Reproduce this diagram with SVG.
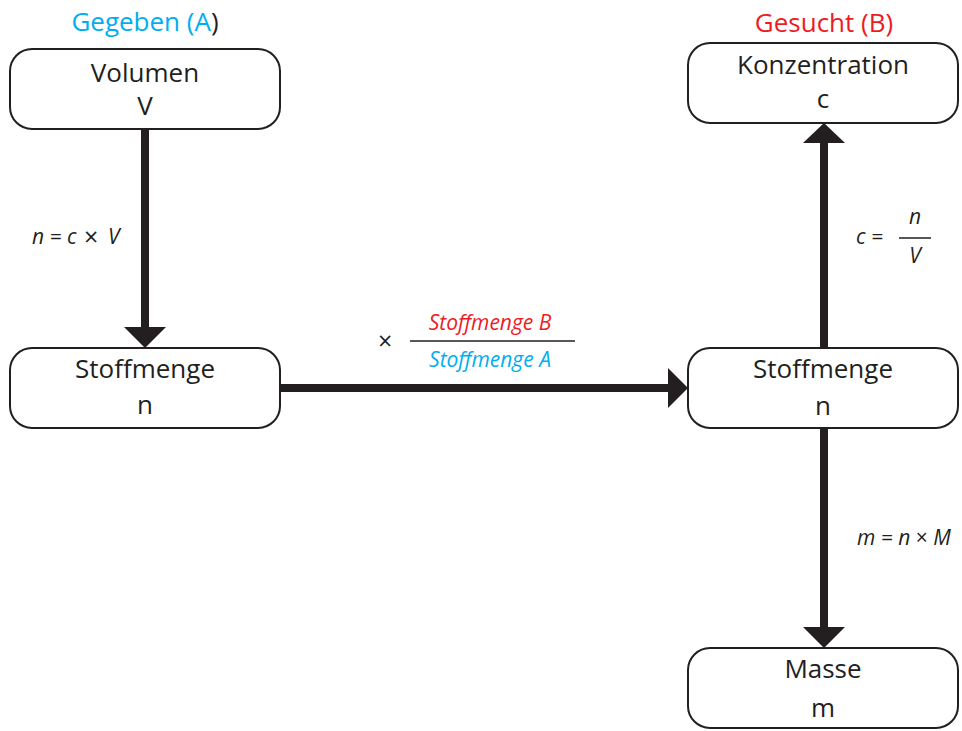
<svg xmlns="http://www.w3.org/2000/svg" width="962" height="731" viewBox="0 0 962 731">
<style>
.box{fill:#fff;stroke:#231f20;stroke-width:2}
.lbl{font-family:"Open Sans","Liberation Sans",sans-serif;font-size:26px;fill:#231f20;text-anchor:middle}
.hd{font-family:"Open Sans","Liberation Sans",sans-serif;font-size:26px;text-anchor:middle}
.f{font-family:"Open Sans","Liberation Sans",sans-serif;font-size:21px;font-style:italic;fill:#231f20}
.x{font-family:"Open Sans","Liberation Sans",sans-serif;font-size:25px;fill:#231f20}
.red{fill:#ed1c24}
.cyan{fill:#00aeef}
.shaft{stroke:#231f20;stroke-width:8;fill:none}
.head{fill:#231f20}
</style>
<rect width="962" height="731" fill="#fff"/>
<text class="hd" x="145" y="31"><tspan class="cyan">Gegeben (A</tspan><tspan fill="#231f20">)</tspan></text>
<text class="hd red" x="824" y="32">Gesucht (B)</text>
<g id="connectors">
<line class="shaft" x1="145" y1="129" x2="145" y2="329"/>
<polygon class="head" points="124,327 166,327 145,348"/>
<line class="shaft" x1="280" y1="388" x2="670" y2="388"/>
<polygon class="head" points="668,368 668,408 688,388"/>
<line class="shaft" x1="824" y1="348" x2="824" y2="141"/>
<polygon class="head" points="803,143 845,143 824,123"/>
<line class="shaft" x1="824" y1="428" x2="824" y2="629"/>
<polygon class="head" points="803,627 845,627 824,648"/>
<text class="f" x="32" y="244">n = c</text>
<text class="x" x="84" y="246">×</text>
<text class="f" x="108" y="244">V</text>
<text class="x" x="378" y="350">×</text>
<line x1="410" y1="341" x2="575" y2="341" stroke="#231f20" stroke-width="1.5"/>
<text class="f red" x="490" y="330" text-anchor="middle">Stoffmenge B</text>
<text class="f cyan" x="490" y="367" text-anchor="middle">Stoffmenge A</text>
<text class="f" x="856" y="244">c =</text>
<line x1="899" y1="238" x2="931" y2="238" stroke="#231f20" stroke-width="1.5"/>
<text class="f" x="915" y="224" text-anchor="middle">n</text>
<text class="f" x="915" y="263" text-anchor="middle">V</text>
<text class="f" x="857" y="545">m = n <tspan style="font-style:normal">×</tspan> M</text>
</g>
<g id="volumen">
<rect class="box" x="10" y="49" width="270" height="80" rx="22"/>
<text class="lbl" x="145" y="82">Volumen</text>
<text class="lbl" x="145" y="115">V</text>
</g>
<g id="stoffmenge-a">
<rect class="box" x="10" y="348" width="270" height="80" rx="22"/>
<text class="lbl" x="145" y="378">Stoffmenge</text>
<text class="lbl" x="145" y="414">n</text>
</g>
<g id="konzentration">
<rect class="box" x="688" y="43" width="270" height="80" rx="22"/>
<text class="lbl" x="823" y="74">Konzentration</text>
<text class="lbl" x="823" y="108">c</text>
</g>
<g id="stoffmenge-b">
<rect class="box" x="688" y="348" width="270" height="80" rx="22"/>
<text class="lbl" x="823" y="378">Stoffmenge</text>
<text class="lbl" x="823" y="415">n</text>
</g>
<g id="masse">
<rect class="box" x="688" y="648" width="270" height="80" rx="22"/>
<text class="lbl" x="823" y="678">Masse</text>
<text class="lbl" x="823" y="717">m</text>
</g>
</svg>
